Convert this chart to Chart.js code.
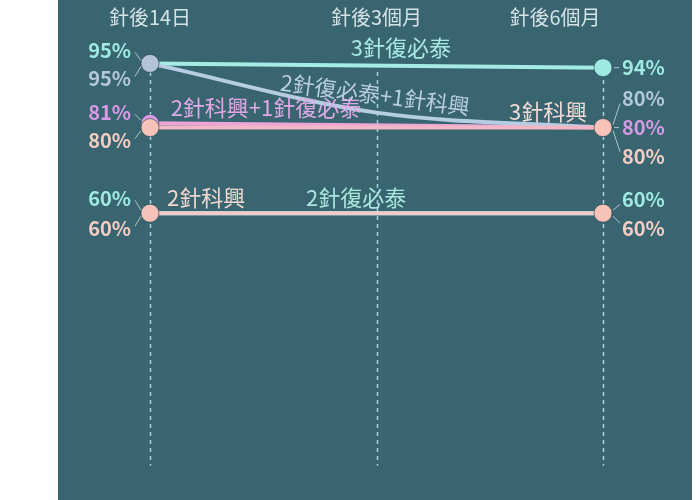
<!DOCTYPE html>
<html>
<head>
    <title>疫苗加強針保護力對比</title>
    <script src="https://cdn.jsdelivr.net/npm/chart.js@4.4.1/dist/chart.umd.min.js"></script>
    <style>
        body { margin: 0; background: #ffffff; }
        .wrap { position: relative; width: 700px; height: 500px; }
    </style>
</head>
<body>
    <div class="wrap">
        <canvas id="vaxChart" width="700" height="500"></canvas>
    </div>

    <script>
        // 時間點（上方標籤）
        const categories = ['針後14日', '針後3個月', '針後6個月'];

        // 各組合的保護力 (%)，中間點只有曲線那條有讀值
        const seriesNames = ['3針科興', '2針科興', '2針復必泰+1針科興', '2針科興+1針復必泰', '3針復必泰', '2針復必泰'];
        const kx3 = [80, null, 80];
        const kx2 = [60, null, 60];
        const fbt2kx1 = [95, 83.5, 80];
        const kx2fbt1 = [81, null, 80];
        const fbt3 = [95, null, 94];
        const fbt2 = [60, null, 60];

        // 顏色
        const lineColors = ['#f2b6c4', '#f0cbcb', '#b6cde2', '#eda5d8', '#a6ece6', '#9fe9e3'];
        const dotColors = ['#f7c2b8', '#f7c2b8', '#b3c3d9', '#d69ae6', '#9fe9e3', '#9fe9e3'];
        const textColors = ['#f3cdc3', '#f3cdc3', '#b3c8dc', '#d69ae6', '#9fe9e3', '#9fe9e3'];
        const nameColors = ['#f2dbd6', '#f2d7cf', '#b9cde0', '#dfa8e6', '#a9e9e4', '#a9e6df'];

        // 線上文字的位置：[橫向比例 0~1, 對應的數值, 旋轉角度]
        const namePlaces = [
            [0.879, 80, 0],
            [0.124, 60, 0],
            [0.497, 84, 0.13],
            [0.256, 81, 0],
            [0.554, 95, 0],
            [0.455, 60, 0]
        ];

        // 兩側百分比標籤的上下偏移 (px)
        const leftOffsets = [13, 15, 15, -11, -13, -15];
        const rightOffsets = [29, 15, -29, 0, 0, -14];

        const seriesData = [kx3, kx2, fbt2kx1, kx2fbt1, fbt3, fbt2];

        const datasets = seriesData.map((d, i) => ({
            label: seriesNames[i],
            data: d,
            borderColor: lineColors[i],
            borderWidth: 4,
            backgroundColor: dotColors[i],
            pointBackgroundColor: dotColors[i],
            pointBorderColor: 'rgba(40,70,80,0.6)',
            pointBorderWidth: 1,
            pointRadius: [9, 0, 9],
            spanGaps: true,
            cubicInterpolationMode: 'monotone'
        }));

        // 背景面板、虛線與文字
        const backdrop = {
            id: 'backdrop',
            beforeDraw(chart) {
                const ctx = chart.ctx;
                ctx.save();
                ctx.fillStyle = '#ffffff';
                ctx.fillRect(0, 0, chart.width, chart.height);
                ctx.fillStyle = '#386570';
                ctx.fillRect(58, 0, 634, chart.height);
                ctx.restore();
            },
            beforeDatasetsDraw(chart) {
                const ctx = chart.ctx;
                const xs = chart.scales.x, ys = chart.scales.y;
                ctx.save();
                ctx.strokeStyle = '#a9d3db';
                ctx.lineWidth = 1.5;
                ctx.setLineDash([4, 4]);
                categories.forEach((c, i) => {
                    const x = Math.round(xs.getPixelForValue(i)) + 0.5;
                    ctx.beginPath();
                    ctx.moveTo(x, ys.getPixelForValue(93));
                    ctx.lineTo(x, ys.getPixelForValue(1));
                    ctx.stroke();
                });
                ctx.restore();
            },
            afterDatasetsDraw(chart) {
                const ctx = chart.ctx;
                const xs = chart.scales.x, ys = chart.scales.y;
                const x0 = xs.getPixelForValue(0), x2 = xs.getPixelForValue(2);
                ctx.save();

                // 上方時間標籤
                ctx.font = '20px "Noto Sans CJK TC"';
                ctx.fillStyle = '#d4e2e6';
                ctx.textBaseline = 'middle';
                ctx.textAlign = 'center';
                categories.forEach((c, i) => {
                    let x = xs.getPixelForValue(i);
                    if (i === categories.length - 1) x -= 48;
                    ctx.fillText(c, x, 17);
                });

                // 線上的組合名稱
                ctx.font = '22px "Noto Sans CJK TC"';
                seriesNames.forEach((name, i) => {
                    const p = namePlaces[i];
                    const x = x0 + p[0] * (x2 - x0);
                    const y = ys.getPixelForValue(p[1]) - 16;
                    ctx.save();
                    ctx.translate(x, y);
                    ctx.rotate(p[2]);
                    ctx.fillStyle = nameColors[i];
                    ctx.fillText(name, 0, 0);
                    ctx.restore();
                });

                // 兩側百分比與連接線
                ctx.font = 'bold 20px "Noto Sans CJK TC"';
                ctx.lineWidth = 1;
                seriesData.forEach((d, i) => {
                    const yl = ys.getPixelForValue(d[0]);
                    const yr = ys.getPixelForValue(d[2]);
                    const ly = yl + leftOffsets[i];
                    const ry = yr + rightOffsets[i];
                    ctx.fillStyle = textColors[i];
                    ctx.textAlign = 'right';
                    ctx.fillText(d[0] + '%', x0 - 19, ly);
                    ctx.textAlign = 'left';
                    ctx.fillText(d[2] + '%', x2 + 19, ry);

                    ctx.strokeStyle = 'rgba(215,230,235,0.75)';
                    const sl = Math.sign(leftOffsets[i]);
                    ctx.beginPath();
                    ctx.moveTo(x0 - 15, ly - sl * 2);
                    ctx.lineTo(x0 - 9, yl + sl * 3);
                    ctx.stroke();

                    const sr = Math.sign(rightOffsets[i]);
                    ctx.beginPath();
                    if (sr === 0) {
                        ctx.moveTo(x2 + 11, ry);
                        ctx.lineTo(x2 + 16, ry);
                    } else {
                        ctx.moveTo(x2 + 17, ry - sr * 5);
                        ctx.lineTo(x2 + 10, yr + sr * 3);
                    }
                    ctx.stroke();
                });
                ctx.restore();
            }
        };

        new Chart(document.getElementById('vaxChart'), {
            type: 'line',
            data: { labels: categories, datasets: datasets },
            options: {
                responsive: false,
                animation: false,
                devicePixelRatio: 1,
                layout: { padding: { left: 150, right: 97, top: 42, bottom: 30 } },
                scales: {
                    x: { display: false },
                    y: { display: false, min: 0, max: 100 }
                },
                plugins: {
                    legend: { display: false },
                    tooltip: { enabled: false }
                }
            },
            plugins: [backdrop]
        });
    </script>
</body>
</html>
